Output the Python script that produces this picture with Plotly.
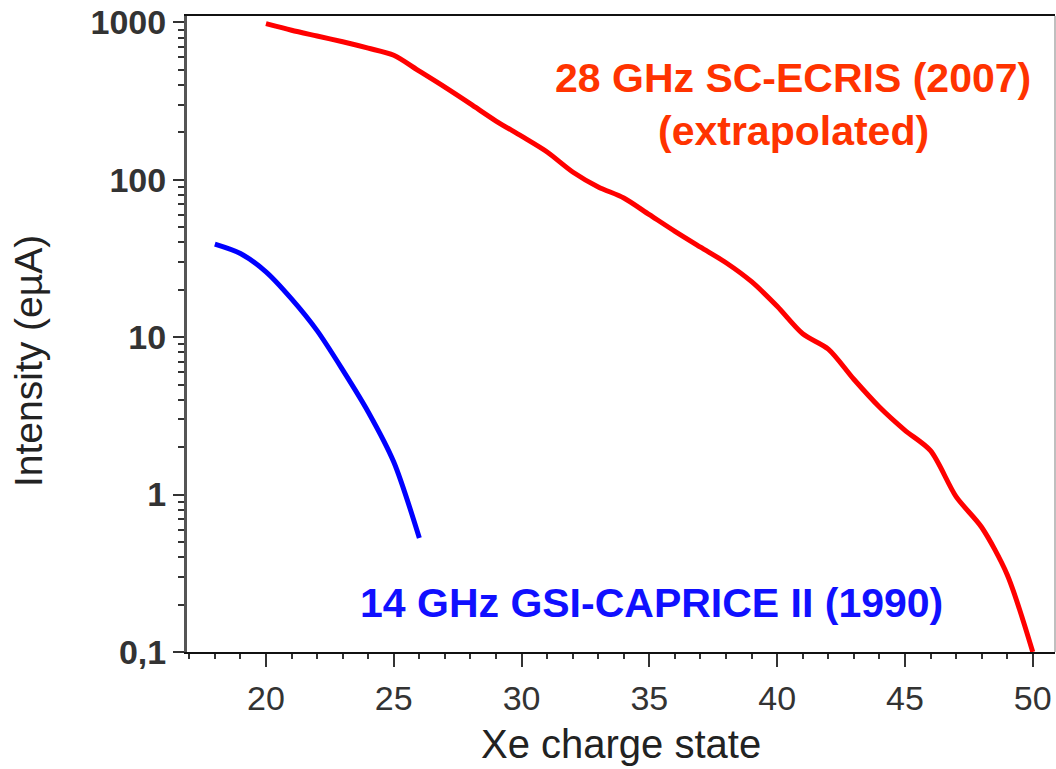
import plotly.graph_objects as go

# Data
charge_28ghz = [20, 21, 22, 23, 24, 25, 26, 27, 28, 29, 30, 31, 32, 33, 34, 35,
                36, 37, 38, 39, 40, 41, 42, 43, 44, 45, 46, 47, 48, 49, 50]
intensity_28ghz = [980, 890, 818, 752, 685, 617, 489, 387, 303, 236, 189, 150, 112, 90,
                   76.6, 60, 47, 37.3, 29.7, 22.5, 15.7, 10.5, 8.4, 5.4, 3.6, 2.56, 1.90,
                   0.97, 0.62, 0.31, 0.10]

charge_14ghz = [18, 19, 20, 21, 22, 23, 24, 25, 26]
intensity_14ghz = [39, 34, 26, 17.5, 11, 6.2, 3.35, 1.61, 0.53]

y_tickvals = [0.1, 1, 10, 100, 1000]
y_ticktext = ["0,1", "1", "10", "100", "1000"]

label_28 = "28 GHz SC-ECRIS (2007)"
label_28b = "(extrapolated)"
label_14 = "14 GHz GSI-CAPRICE II (1990)"
x_title = "Xe charge state"
y_title = "Intensity (eµA)"

W, H = 1056, 769
L, R, T, B = 187, 1, 16, 117
pw, ph = W - L - R, H - T - B

def px2paper(x, y):
    return (x - L) / pw, (H - B - y) / ph

FONT = "Liberation Sans, Arial, sans-serif"

fig = go.Figure()
fig.add_trace(go.Scatter(x=charge_28ghz, y=intensity_28ghz, mode="lines",
                         line=dict(color="#ff0000", width=5, shape="spline", smoothing=0.8),
                         showlegend=False))
fig.add_trace(go.Scatter(x=charge_14ghz, y=intensity_14ghz, mode="lines",
                         line=dict(color="#0000ff", width=5, shape="spline", smoothing=0.8),
                         showlegend=False))

annos = []
x, y = px2paper(793, 78)
annos.append(dict(x=x, y=y, xref="paper", yref="paper", text=label_28, showarrow=False,
                  xanchor="center", yanchor="middle",
                  font=dict(family=FONT, size=41, color="#ff3300", weight="bold")))
x, y = px2paper(793, 131)
annos.append(dict(x=x, y=y, xref="paper", yref="paper", text=label_28b, showarrow=False,
                  xanchor="center", yanchor="middle",
                  font=dict(family=FONT, size=41, color="#ff3300", weight="bold")))
x, y = px2paper(651, 603)
annos.append(dict(x=x, y=y, xref="paper", yref="paper", text=label_14, showarrow=False,
                  xanchor="center", yanchor="middle",
                  font=dict(family=FONT, size=41, color="#1010ff", weight="bold")))
x, y = px2paper(621, 744)
annos.append(dict(x=x, y=y, xref="paper", yref="paper", text=x_title, showarrow=False,
                  xanchor="center", yanchor="middle",
                  font=dict(family=FONT, size=40, color="#222222")))
x, y = px2paper(28, 361)
annos.append(dict(x=x, y=y, xref="paper", yref="paper", text=y_title, showarrow=False,
                  xanchor="center", yanchor="middle", textangle=-90,
                  font=dict(family=FONT, size=39, color="#222222")))

fig.update_layout(
    width=W, height=H,
    margin=dict(l=L, r=R, t=T, b=B, pad=0),
    paper_bgcolor="white", plot_bgcolor="white",
    annotations=annos,
    shapes=[dict(type="line", xref="paper", yref="paper", x0=1, x1=1, y0=0, y1=1,
                 line=dict(color="#aaaaaa", width=1.5))],
    xaxis=dict(range=[16.91, 50.87], showgrid=False, zeroline=False,
               showline=True, linecolor="#111111", linewidth=2, mirror=True,
               ticks="outside", ticklen=13, tickwidth=2, tickcolor="#333333",
               tick0=0, dtick=5, ticklabelstandoff=2,
               tickfont=dict(family=FONT, size=34, color="#333333"),
               minor=dict(ticks="outside", ticklen=5, tickwidth=2, tickcolor="#333333",
                          dtick=1, tick0=0, showgrid=False)),
    yaxis=dict(type="log", range=[-1, 3.04], showgrid=False, zeroline=False,
               showline=True, linecolor="#555555", linewidth=3, mirror=False,
               ticks="outside", ticklen=11, tickwidth=2, tickcolor="#333333",
               tickvals=y_tickvals, ticktext=y_ticktext,
               tickfont=dict(family=FONT, size=34, color="#333333", weight="bold"),
               minor=dict(ticks="outside", ticklen=6, tickwidth=2, tickcolor="#333333",
                          dtick="D1", showgrid=False)),
)

fig.write_html("out.html")
